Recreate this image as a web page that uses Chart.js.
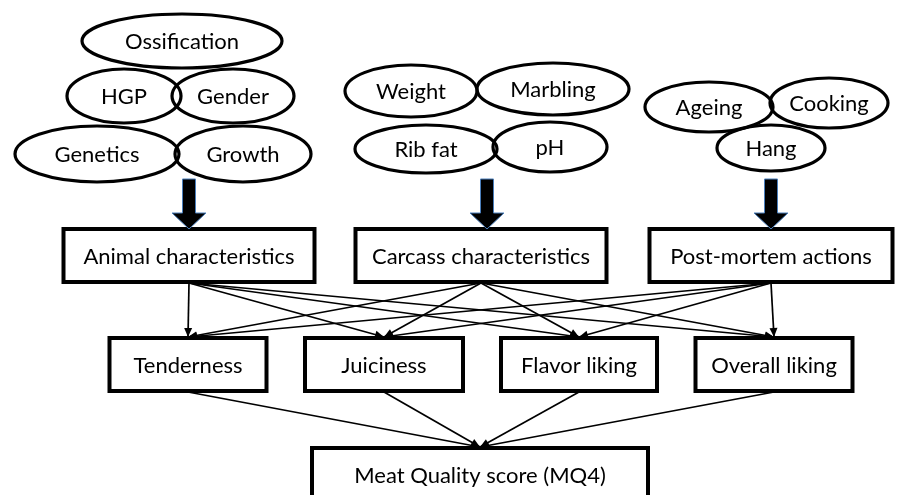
<!DOCTYPE html>
<html><head><meta charset="utf-8">
<script src="https://cdn.jsdelivr.net/npm/chart.js@4/dist/chart.umd.min.js"></script>
<style>html,body{margin:0;padding:0;background:#fff}#wrap{width:907px;height:495px;position:relative}</style>
</head><body><div id="wrap"><canvas id="c"></canvas></div>
<script>
// ---- Diagram data (node positions in diagram units) ----
const factorNodes = ['Ossification','HGP','Gender','Genetics','Growth','Weight','Marbling','Rib fat','pH','Ageing','Cooking','Hang'];
const factorNodeX = [182,124,233,97,243,411,553,426,550,709,829,771];
const factorNodeY = [41,96,96,154,154,91,89,149,147,107,103,148];
const factorNodeRX = [100,57,61,82,68,66,76,71,57,64,59,54];
const factorNodeRY = [27,27,27,28,28,26,26,24,25,25,25,23];

const groupNames = ['Animal characteristics','Carcass characteristics','Post-mortem actions'];
const groupX = [189,481,771];
const groupW = [251,251,243];
const groupTop = 229, groupBottom = 282;
const blockArrowX = [189,487,771];
const blockArrowTop = 179, blockArrowTip = 229;

const attrNames = ['Tenderness','Juiciness','Flavor liking','Overall liking'];
const attrX = [188,384,579,774];
const attrW = [157,158,156,157];
const attrTop = 338, attrBottom = 391;

const scoreName = 'Meat Quality score (MQ4)';
const scoreX = 480, scoreW = 336, scoreTop = 448, scoreBottom = 506;

const FONT = '22px Lato, "Open Sans", sans-serif';

// ---- edges as line datasets ----
const datasets = [];
groupX.forEach((gx) => {
  attrX.forEach((ax) => {
    datasets.push({data:[{x:gx,y:groupBottom+1},{x:ax,y:attrTop-1}]});
  });
});
attrX.forEach((ax) => {
  datasets.push({data:[{x:ax,y:attrBottom+1},{x:scoreX,y:scoreTop-1}]});
});
datasets.forEach(d => { d.showLine = true; d.borderColor = '#000'; d.borderWidth = 1.7; d.pointRadius = 0; d.fill = false; });

const diagramPlugin = {
  id: 'diagram',
  afterDatasetsDraw(chart) {
    const ctx = chart.ctx, sx = chart.scales.x, sy = chart.scales.y;
    const X = v => sx.getPixelForValue(v), Y = v => sy.getPixelForValue(v);
    ctx.save();
    // arrowheads
    chart.data.datasets.forEach(d => {
      const a = d.data[0], b = d.data[1];
      const x1 = X(a.x), y1 = Y(a.y), x2 = X(b.x), y2 = Y(b.y);
      const ang = Math.atan2(y2 - y1, x2 - x1);
      const L = 9, W = 4;
      ctx.beginPath();
      ctx.moveTo(x2, y2);
      ctx.lineTo(x2 - L*Math.cos(ang) + W*Math.sin(ang), y2 - L*Math.sin(ang) - W*Math.cos(ang));
      ctx.lineTo(x2 - L*Math.cos(ang) - W*Math.sin(ang), y2 - L*Math.sin(ang) + W*Math.cos(ang));
      ctx.closePath();
      ctx.fillStyle = '#000';
      ctx.fill();
    });
    // boxes
    const box = (cx, w, top, bottom, label) => {
      const l = X(cx - w/2), r = X(cx + w/2), t = Y(top), b = Y(bottom);
      ctx.fillStyle = '#fff';
      ctx.fillRect(l, t, r - l, b - t);
      ctx.lineWidth = 4;
      ctx.strokeStyle = '#000';
      ctx.strokeRect(l, t, r - l, b - t);
      ctx.fillStyle = '#000';
      ctx.font = FONT;
      ctx.textAlign = 'center';
      ctx.textBaseline = 'middle';
      ctx.fillText(label, X(cx), (Y(top) + Y(Math.min(bottom, top + 53))) / 2 + 1);
    };
    groupNames.forEach((n, i) => box(groupX[i], groupW[i], groupTop, groupBottom, n));
    attrNames.forEach((n, i) => box(attrX[i], attrW[i], attrTop, attrBottom, n));
    box(scoreX, scoreW, scoreTop, scoreBottom, scoreName);
    // ellipses
    ctx.lineWidth = 3.2;
    ctx.strokeStyle = '#000';
    factorNodes.forEach((n, i) => {
      ctx.beginPath();
      ctx.ellipse(X(factorNodeX[i]), Y(factorNodeY[i]),
        X(factorNodeX[i] + factorNodeRX[i]) - X(factorNodeX[i]),
        Y(factorNodeY[i] + factorNodeRY[i]) - Y(factorNodeY[i]), 0, 0, Math.PI*2);
      ctx.stroke();
    });
    ctx.fillStyle = '#000';
    ctx.font = FONT;
    ctx.textAlign = 'center';
    ctx.textBaseline = 'middle';
    factorNodes.forEach((n, i) => ctx.fillText(n, X(factorNodeX[i]), Y(factorNodeY[i]) + 1));
    // block arrows
    blockArrowX.forEach(ax => {
      const c = X(ax), t = Y(blockArrowTop), tip = Y(blockArrowTip);
      const headTop = tip - 16;
      ctx.beginPath();
      ctx.moveTo(c - 6.5, t);
      ctx.lineTo(c + 6.5, t);
      ctx.lineTo(c + 6.5, headTop);
      ctx.lineTo(c + 17, headTop);
      ctx.lineTo(c, tip);
      ctx.lineTo(c - 17, headTop);
      ctx.lineTo(c - 6.5, headTop);
      ctx.closePath();
      ctx.fillStyle = '#000';
      ctx.fill();
      ctx.lineWidth = 1;
      ctx.strokeStyle = '#4a7ebb';
      ctx.stroke();
    });
    ctx.restore();
  }
};

new Chart(document.getElementById('c'), {
  type: 'scatter',
  data: { datasets },
  options: {
    responsive: true, maintainAspectRatio: false, animation: false,
    layout: { padding: 0 },
    plugins: { legend: { display: false }, tooltip: { enabled: false } },
    scales: {
      x: { type: 'linear', min: 0, max: 907, display: false },
      y: { type: 'linear', min: 0, max: 495, reverse: true, display: false }
    }
  },
  plugins: [diagramPlugin]
});
</script></body></html>
